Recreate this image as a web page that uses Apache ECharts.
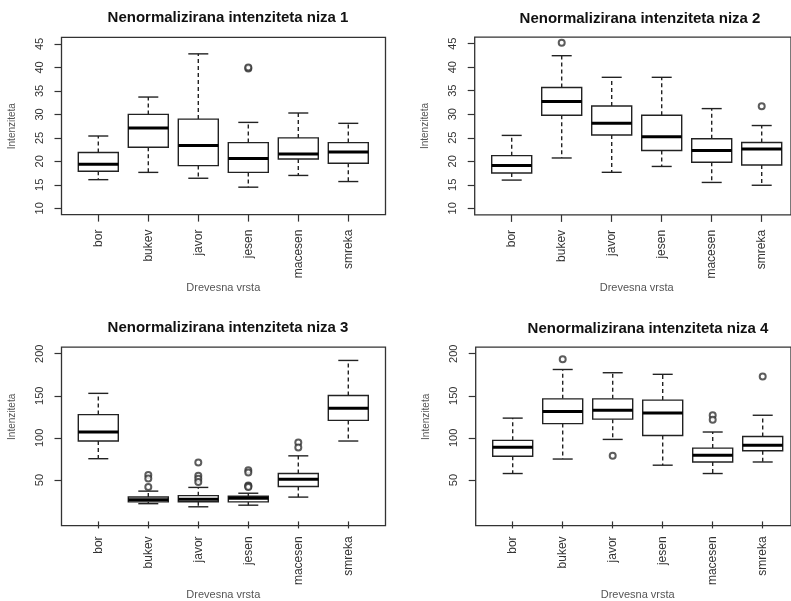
<!DOCTYPE html>
<html>
<head>
<meta charset="utf-8">
<script src="https://cdn.jsdelivr.net/npm/echarts@6/dist/echarts.min.js"></script>
<style>
  html, body { margin: 0; padding: 0; background: #fff; }
  #chart { width: 791px; height: 601px; }
</style>
</head>
<body>
<div id="chart"></div>
<script>
// ---------- data ----------
const categories = ['bor', 'bukev', 'javor', 'jesen', 'macesen', 'smreka'];
const titles = [
  'Nenormalizirana intenziteta niza 1',
  'Nenormalizirana intenziteta niza 2',
  'Nenormalizirana intenziteta niza 3',
  'Nenormalizirana intenziteta niza 4'
];
const xAxisName = 'Drevesna vrsta';
const yAxisName = 'Intenziteta';
const yTicksTop = [10, 15, 20, 25, 30, 35, 40, 45];
const yTicksBottom = [50, 100, 150, 200];

// each row: [lower whisker, Q1, median, Q3, upper whisker] per category
const niza1 = [
  [16.1, 17.9, 19.4, 21.9, 25.4],
  [17.65, 23.0, 27.1, 30.0, 33.7],
  [16.4, 19.1, 23.4, 29.0, 42.9],
  [14.5, 17.65, 20.6, 24.0, 28.3],
  [17.0, 20.5, 21.55, 25.0, 30.3],
  [15.7, 19.6, 22.0, 24.0, 28.1]
];
const niza1Outliers = [['jesen', 39.8], ['jesen', 40.0]];

const niza2 = [
  [16.0, 17.5, 19.1, 21.2, 25.5],
  [20.7, 29.8, 32.7, 35.7, 42.45],
  [17.65, 25.6, 28.1, 31.75, 37.85],
  [18.9, 22.3, 25.2, 29.8, 37.85],
  [15.5, 19.8, 22.3, 24.8, 31.2],
  [14.9, 19.2, 22.6, 24.0, 27.6]
];
const niza2Outliers = [['bukev', 45.2], ['smreka', 31.7]];

const niza3 = [
  [75.3, 96.3, 107.0, 127.7, 152.9],
  [21.9, 24.0, 26.5, 29.9, 36.8],
  [18.2, 24.2, 27.2, 31.4, 41.2],
  [20.1, 24.0, 28.2, 30.7, 34.3],
  [29.7, 42.3, 50.8, 57.7, 78.7],
  [96.3, 120.8, 135.3, 150.3, 192.0]
];
const niza3Outliers = [
  ['bukev', 55.8], ['bukev', 51.9], ['bukev', 41.6],
  ['javor', 70.8], ['javor', 55.2], ['javor', 51.5], ['javor', 47.6],
  ['jesen', 61.5], ['jesen', 58.8], ['jesen', 43.5], ['jesen', 42.5], ['jesen', 41.8],
  ['macesen', 94.4], ['macesen', 88.6]
];

const niza4 = [
  [57.7, 78.3, 89.0, 97.1, 123.5],
  [74.9, 117.0, 131.5, 146.4, 181.25],
  [98.2, 122.3, 132.7, 146.4, 177.4],
  [67.6, 102.8, 129.6, 144.9, 175.5],
  [57.7, 71.4, 79.5, 87.9, 107.0],
  [71.4, 84.8, 91.3, 101.7, 126.9]
];
const niza4Outliers = [
  ['bukev', 193.5], ['javor', 78.7],
  ['macesen', 126.9], ['macesen', 121.6], ['smreka', 172.8]
];

// ---------- layout (pixels) ----------
const panels = [
  { stats: niza1, outliers: niza1Outliers, ticks: yTicksTop, title: titles[0],
    data: { l: 98.3, r: 348.3, t: 44.0, b: 208.3 },
    frame: { l: 61.5, r: 385.5, t: 37.4, b: 214.6 }, titleX: 223, titleY: 5 },
  { stats: niza2, outliers: niza2Outliers, ticks: yTicksTop, title: titles[1],
    data: { l: 511.7, r: 761.7, t: 43.7, b: 208.3 },
    frame: { l: 474.7, r: 798.7, t: 37.1, b: 214.9 }, titleX: 635, titleY: 6 },
  { stats: niza3, outliers: niza3Outliers, ticks: yTicksBottom, title: titles[2],
    data: { l: 98.3, r: 348.3, t: 353.7, b: 484.3 },
    frame: { l: 61.5, r: 385.5, t: 347.1, b: 525.7 }, titleX: 223, titleY: 315 },
  { stats: niza4, outliers: niza4Outliers, ticks: yTicksBottom, title: titles[3],
    data: { l: 512.7, r: 762.7, t: 353.7, b: 484.3 },
    frame: { l: 475.7, r: 799.7, t: 347.1, b: 525.7 }, titleX: 643, titleY: 316 }
];

const FONT = "'Liberation Sans', Arial, sans-serif";
const NARROW = "'Liberation Sans Narrow', 'Liberation Sans', Arial, sans-serif";
const LINE = '#222';

function renderBox(params, api) {
  const c = api.value(0);
  const lo = api.coord([c, api.value(1)]);
  const q1 = api.coord([c, api.value(2)]);
  const md = api.coord([c, api.value(3)]);
  const q3 = api.coord([c, api.value(4)]);
  const hi = api.coord([c, api.value(5)]);
  const band = api.size([1, 0])[0];
  const bw = band * 0.8;
  const sw = bw * 0.5;
  const x = lo[0];
  const solid = { stroke: LINE, lineWidth: 1.4, fill: null };
  const dashed = { stroke: LINE, lineWidth: 1.4, lineDash: [4, 3], fill: null };
  return {
    type: 'group',
    children: [
      { type: 'line', shape: { x1: x, y1: q3[1], x2: x, y2: hi[1] }, style: dashed },
      { type: 'line', shape: { x1: x, y1: q1[1], x2: x, y2: lo[1] }, style: dashed },
      { type: 'line', shape: { x1: x - sw / 2, y1: hi[1], x2: x + sw / 2, y2: hi[1] }, style: solid },
      { type: 'line', shape: { x1: x - sw / 2, y1: lo[1], x2: x + sw / 2, y2: lo[1] }, style: solid },
      { type: 'rect', shape: { x: x - bw / 2, y: q3[1], width: bw, height: q1[1] - q3[1] },
        style: { stroke: LINE, lineWidth: 1.4, fill: '#fff' } },
      { type: 'line', shape: { x1: x - bw / 2, y1: md[1], x2: x + bw / 2, y2: md[1] },
        style: { stroke: '#000', lineWidth: 3 } }
    ]
  };
}

const option = {
  animation: false,
  backgroundColor: '#fff',
  title: [],
  grid: [],
  xAxis: [],
  yAxis: [],
  series: []
};

panels.forEach((p, i) => {
  const dg = i * 2, fg = i * 2 + 1;
  option.title.push({
    text: p.title, left: p.titleX, top: p.titleY, textAlign: 'center',
    textStyle: { fontFamily: FONT, fontSize: 15, fontWeight: 'bold', color: '#111' }
  });
  // data grid: spans exactly the tick range
  option.grid.push({
    left: p.data.l, top: p.data.t,
    width: p.data.r - p.data.l, height: p.data.b - p.data.t,
    containLabel: false
  });
  // frame grid: the plot box
  option.grid.push({
    left: p.frame.l, top: p.frame.t,
    width: p.frame.r - p.frame.l, height: p.frame.b - p.frame.t,
    show: true, borderColor: '#333', borderWidth: 1.3, backgroundColor: 'transparent',
    containLabel: false
  });
  const tickMin = p.ticks[0], tickMax = p.ticks[p.ticks.length - 1];
  option.xAxis.push({
    gridIndex: dg, type: 'category', data: categories, boundaryGap: false,
    offset: p.frame.b - p.data.b,
    axisLine: { show: false },
    axisTick: { show: true, length: 7, inside: false, lineStyle: { color: '#333', width: 1.2 } },
    axisLabel: { interval: 0, rotate: 90, margin: 15, fontSize: 12, color: '#333', fontFamily: FONT },
    splitLine: { show: false },
    name: xAxisName, nameLocation: 'middle', nameGap: 63,
    nameTextStyle: { fontSize: 11, color: '#555', fontFamily: FONT }
  });
  option.xAxis.push({ gridIndex: fg, type: 'value', show: false, min: 0, max: 1 });
  option.yAxis.push({
    gridIndex: dg, type: 'value', min: tickMin, max: tickMax,
    interval: p.ticks[1] - p.ticks[0],
    offset: p.data.l - p.frame.l,
    axisLine: { show: false },
    axisTick: { show: true, length: 7, lineStyle: { color: '#333', width: 1.2 }, customValues: p.ticks },
    axisLabel: { rotate: 90, margin: 16, fontSize: 11, color: '#333', fontFamily: NARROW, customValues: p.ticks },
    splitLine: { show: false },
    name: yAxisName, nameLocation: 'middle', nameGap: 44,
    nameTextStyle: { fontSize: 10, color: '#555', fontFamily: FONT }
  });
  option.yAxis.push({ gridIndex: fg, type: 'value', show: false, min: 0, max: 1 });

  option.series.push({
    type: 'custom', xAxisIndex: i * 2, yAxisIndex: i * 2, clip: false,
    renderItem: renderBox,
    encode: { x: 0, y: [1, 2, 3, 4, 5] },
    data: p.stats.map((s, k) => [k].concat(s)),
    z: 3
  });
  option.series.push({
    type: 'scatter', xAxisIndex: i * 2, yAxisIndex: i * 2, clip: false,
    symbol: 'emptyCircle', symbolSize: 6,
    itemStyle: { color: '#333', borderColor: '#333', borderWidth: 1 },
    data: p.outliers.map(o => [categories.indexOf(o[0]), o[1]]),
    z: 4
  });
});

const chart = echarts.init(document.getElementById('chart'), null, { renderer: 'canvas' });
chart.setOption(option);
</script>
</body>
</html>
